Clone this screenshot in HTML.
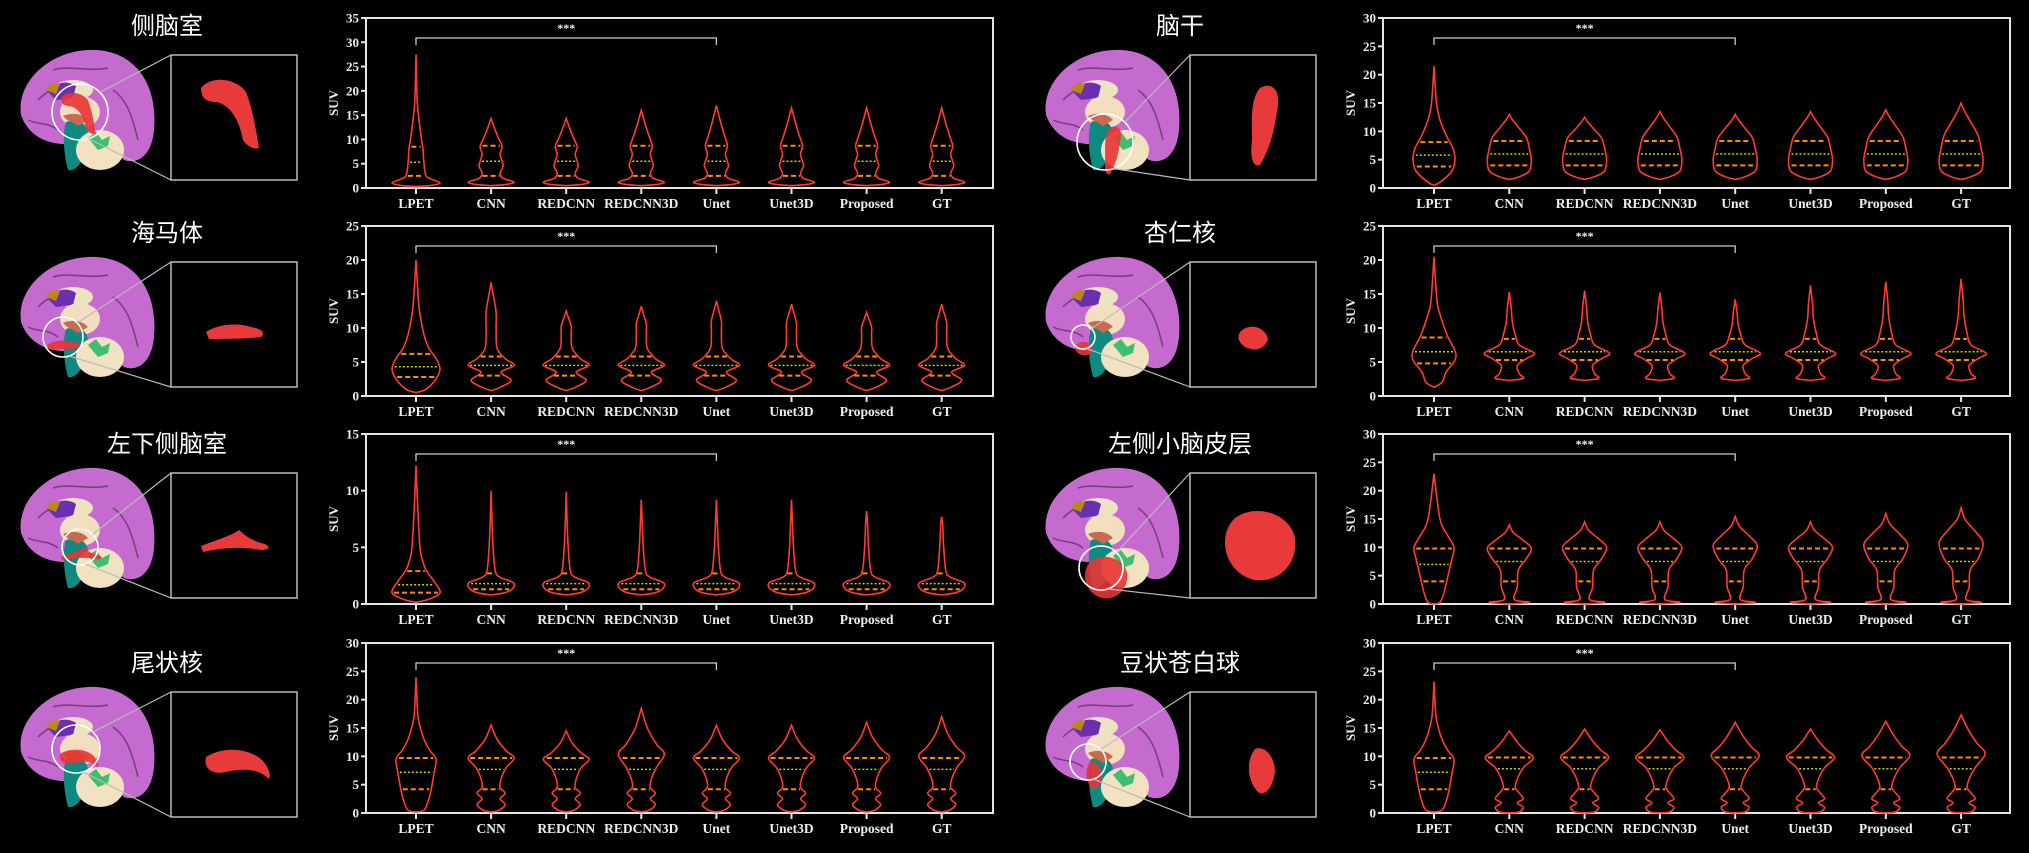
<!DOCTYPE html>
<html><head><meta charset="utf-8">
<style>
html,body{margin:0;padding:0;background:#000;}
body{width:2029px;height:853px;overflow:hidden;position:relative;}
svg{position:absolute;left:0;top:0;}
</style></head>
<body>
<svg id="s" width="2029" height="853" xmlns="http://www.w3.org/2000/svg"></svg>
<script>
const S=document.getElementById('s');let out='';
const cats=["LPET","CNN","REDCNN","REDCNN3D","Unet","Unet3D","Proposed","GT"];
function scaleProf(p,top){const t0=p[p.length-1][0];const b=p[0][0];return p.map(([v,w])=>[v<=b+0.01?v:(v>=t0-0.01?top:v+(v>8?(v-8)/(t0-8)*(top-t0):0)),w]);}
function hwAt(p,v){for(let i=0;i<p.length-1;i++){if(v>=p[i][0]&&v<=p[i+1][0]){const t=(v-p[i][0])/(p[i+1][0]-p[i][0]||1);return p[i][1]+t*(p[i+1][1]-p[i][1]);}}return 0;}
function smooth(pts){let d='M'+pts[0][0].toFixed(1)+','+pts[0][1].toFixed(1);for(let i=0;i<pts.length-1;i++){const p0=pts[Math.max(0,i-1)],p1=pts[i],p2=pts[i+1],p3=pts[Math.min(pts.length-1,i+2)];const c1=[p1[0]+(p2[0]-p0[0])/6,p1[1]+(p2[1]-p0[1])/6],c2=[p2[0]-(p3[0]-p1[0])/6,p2[1]-(p3[1]-p1[1])/6];d+=`C${c1[0].toFixed(1)},${c1[1].toFixed(1)} ${c2[0].toFixed(1)},${c2[1].toFixed(1)} ${p2[0].toFixed(1)},${p2[1].toFixed(1)}`;}return d;}
function chart(axL,axR,top,ymax,x0,dx,lp,lq,op,tops,oq){
  const H=170,y0=top+H,Y=v=>y0-v/ymax*H;
  out+=`<rect x="${axL}" y="${top}" width="${axR-axL}" height="${H}" fill="none" stroke="#e6e6e6" stroke-width="2"/>`;
  for(let v=0;v<=ymax;v+=5){const y=Y(v);out+=`<line x1="${axL-5}" y1="${y}" x2="${axL}" y2="${y}" stroke="#e6e6e6" stroke-width="2"/><text x="${axL-7}" y="${y+4.5}" text-anchor="end" font-family="Liberation Serif,serif" font-weight="bold" font-size="13" fill="#eee">${v}</text>`;}
  out+=`<text transform="translate(${axL-28},${top+H/2}) rotate(-90)" text-anchor="middle" font-family="Liberation Serif,serif" font-weight="bold" font-size="13" fill="#eee">SUV</text>`;
  const bx1=x0,bx2=x0+4*dx,by=top+20;
  out+=`<path d="M${bx1},${by+7}V${by}H${bx2}V${by+7}" fill="none" stroke="#ccc" stroke-width="1.3"/><text x="${(bx1+bx2)/2}" y="${top+14}" text-anchor="middle" font-family="Liberation Serif,serif" font-weight="bold" font-size="12" fill="#eee">***</text>`;
  for(let i=0;i<8;i++){const cx=x0+i*dx;
    out+=`<line x1="${cx}" y1="${y0}" x2="${cx}" y2="${y0+6}" stroke="#e6e6e6" stroke-width="2"/><text x="${cx}" y="${y0+20}" text-anchor="middle" font-family="Liberation Serif,serif" font-weight="bold" font-size="13.5" fill="#eee">${cats[i]}</text>`;
    const p=i==0?lp:scaleProf(op,tops[i-1]);const q=i==0?lq:oq;
    const R=p.map(([v,w])=>[cx+w,Y(v)]),L=p.slice().reverse().map(([v,w])=>[cx-w,Y(v)]);
    out+=`<path d="${smooth(R)} ${smooth(L).replace('M','L')}Z" fill="none" stroke="#ff3b30" stroke-width="1.6"/>`;
    q.forEach((v,k)=>{const w=Math.max(hwAt(p,v)-2,2),y=Y(v);out+=`<line x1="${cx-w}" y1="${y}" x2="${cx+w}" y2="${y}" stroke="${k==1?'#c8d400':'#ff8c00'}" stroke-width="${k==1?1.5:2}" stroke-dasharray="${k==1?'2,2':'5,3'}"/>`;});
  }
}
const cols=[{axL:366,axR:993,x0:416,dx:75.1},{axL:1383,axR:2010,x0:1434,dx:75.3}];
const tops=[18,226,434,643];
const P=[
 [0,0,35,[[0.3,0],[0.5,14],[1,24],[1.8,16],[2.5,10],[5,8],[8,7],[10,5.5],[14,3],[17,1.5],[20,0.8],[27.5,0]],[2.5,5.3,8.5],
  [[0.5,0],[0.7,14],[1.2,23],[2,12],[3,9],[4.5,12],[5.5,11],[7,9],[8.5,11],[10,8],[12,4],[14.3,0]],[14.3,14.3,16,17,16.5,16.5,16.5],[2.5,5.5,8.7]],
 [0,1,25,[[0.5,0],[1,10],[2.5,20],[4,24],[5.5,20],[7,13],[9,8],[12,4],[14,2.5],[20,0]],[2.8,4.3,6.2],
  [[0.8,0],[1.2,8],[2.3,20],[3.5,10],[4.5,23],[5.5,14],[7,6],[9,5],[10.5,5],[12,2],[13,0]],[16.7,12.5,13.2,14,13.5,12.3,13.5],[3,4.5,5.8]],
 [0,2,15,[[0.15,0],[0.4,12],[1,24],[2,18],[3,10],[4,6],[5,4],[8,2],[12.2,0]],[1,1.7,2.9],
  [[0.8,0],[1,14],[1.4,22],[1.9,22],[2.4,8],[3,4],[5,2],[7,1],[9.5,0]],[10,9.9,9.2,9.2,9.2,8.2,7.7],[1.3,1.8,2.7]],
 [0,3,30,[[0.2,0],[0.5,8],[2,12],[4,15],[7,18],[9.5,20],[11,14],[13,8],[16,3],[18,1.5],[24,0]],[4.2,7.2,9.7],
  [[0.2,0],[0.5,8],[1.5,14],[2.5,9],[3.5,14],[4.5,9],[6,10],[8,15],[9.7,23],[11,15],[13,6],[15.5,0]],[15.5,14.5,18.5,15.5,15.5,16,17],[4.2,7.7,9.7]],
 [1,0,30,[[0.5,0],[1,6],[3,18],[5,21],[7,19],[9,13],[12,6],[15,2.5],[21.5,0]],[3.8,5.8,8.1],
  [[1.5,0],[2,10],[3,20],[5,22],[7,20],[9,17],[11,9],[12.5,3],[13.5,0]],[13,12.5,13.5,13,13.5,13.8,15],[4,6,8.3]],
 [1,1,25,[[1.3,0],[2,8],[3.5,12],[5,20],[6,22],[7,20],[9,13],[12,6],[14,3],[20.5,0]],[4.8,6.5,8.6],
  [[2.3,0],[2.6,14],[3.3,10],[4.5,8],[5.5,17],[6.3,25],[7.5,10],[9,6],[11,3],[13,2],[15.5,0]],[15.3,15.5,15.2,14.2,16.3,16.8,17.2],[5.3,6.5,8.4]],
 [1,2,30,[[0,0],[0.3,6],[2,10],[5,14],[8,18],[10,20],[12,14],[15,6],[23,0]],[4,7,9.8],
  [[0,0],[0.3,20],[0.8,5],[3,8],[6,9],[8,17],[10,22],[11.5,14],[13,4],[14.5,0]],[14,14.5,14.5,15.5,14.5,16,17],[4,7.5,9.8]],
 [1,3,30,[[0.2,0],[0.5,8],[2,12],[4,15],[7,18],[9.5,20],[11,14],[13,8],[16,3],[18,1.5],[23.2,0]],[4.2,7.2,9.7],
  [[0,0],[0.2,10],[1,14],[1.8,8],[2.5,14],[3.5,10],[4.5,6],[6,8],[8,14],[9.7,24],[11,16],[12.5,8],[14.5,0]],[14.5,14.8,14.7,16,14.8,16.2,17.3],[4.2,7.8,9.8]]
];
P.forEach(a=>{const c=cols[a[0]];chart(c.axL,c.axR,tops[a[1]],a[2],c.x0,c.dx,a[3],a[4],a[5],a[6],a[7]);});
// brains
const titles=[["侧脑室","海马体","左下侧脑室","尾状核"],["脑干","杏仁核","左侧小脑皮层","豆状苍白球"]];
const tY=[25,232,443,662];
const circ=[[[62,62,28],[45,80,20],[62,79,18],[58,62,24]],[[62,92,28],[40,80,12],[58,100,22],[45,75,18]]];
const blobs=[["M10,18 C20,5 45,8 55,22 C62,40 65,60 68,78 C62,80 55,75 52,70 C48,50 40,35 25,32 C15,32 10,28 10,18Z",
 "M15,55 C25,48 45,45 60,50 C70,52 75,55 70,60 C55,62 35,62 18,62Z",
 "M10,58 C25,52 40,48 48,42 C52,45 55,50 70,55 C80,57 80,62 70,62 C50,58 30,60 12,64Z",
 "M15,50 C30,40 55,40 70,52 C78,60 80,68 78,72 C65,60 50,62 35,65 C22,68 12,62 15,50Z"],
 ["M50,18 C60,12 70,18 68,35 C65,55 62,75 50,95 C42,98 40,85 42,70 C42,50 40,30 50,18Z",
 "M30,55 C40,45 55,50 58,62 C55,72 45,75 35,70 C28,65 27,60 30,55Z",
 "M25,30 C45,15 80,25 85,50 C88,75 70,95 45,92 C25,88 15,70 15,55 C15,45 18,37 25,30Z",
 "M45,42 C55,38 65,50 65,65 C63,80 55,90 48,85 C38,75 35,55 45,42Z"]];
for(let c=0;c<2;c++)for(let r=0;r<4;r++){
  const off=c?1013:0,tx=167+off,ty=tY[r];
  out+=`<text x="${tx}" y="${ty+9}" text-anchor="middle" font-family="Liberation Sans,'Noto Sans CJK SC',sans-serif" font-size="24" fill="#fff">${titles[c][r]}</text>`;
  const bx=18+off+(c?12:0),by=ty+25,boxX=171+off+(c?6:0),boxY=ty+30;
  out+=`<g transform="translate(${bx},${by})">
  <path d="M3,65 C-2,30 35,-2 78,0 C118,2 140,35 136,80 C134,105 120,115 106,110 L88,95 L70,92 C50,96 15,98 3,65Z" fill="#c56bd0"/>
  <path d="M20,50 C40,30 60,35 70,40 M35,20 C50,15 70,22 90,18 M95,40 C110,50 115,70 120,90 M10,70 C20,75 30,72 40,80" stroke="#7a3a80" stroke-width="1.5" fill="none"/>
  <ellipse cx="55" cy="40" rx="20" ry="10" fill="#ece3c0"/>
  <path d="M30,42 C35,32 50,30 58,36 L55,48 L38,50Z" fill="#6a2fb0"/>
  <path d="M28,40 C30,34 38,32 42,34 L38,44Z" fill="#b88a15"/>
  <ellipse cx="62" cy="62" rx="20" ry="16" fill="#f3dfbf"/>
  <path d="M48,72 C60,68 72,72 70,90 C68,110 58,122 50,120 C46,105 44,85 48,72Z" fill="#0f8a80"/>
  <ellipse cx="82" cy="100" rx="24" ry="20" fill="#f3e2c2"/>
  <path d="M70,88 L78,82 L84,90 L92,86 L90,96 L80,100Z" fill="#3cbf70"/>
  <path d="M45,66 C55,62 65,64 70,70 L60,76 C55,72 50,72 45,66Z" fill="#c86a50"/>
  </g>`;
  const [cx,cy,cr]=circ[c][r];const gx=bx+cx,gy=by+cy;
  out+=`<path d="${blobs[c][r].replace(/(-?\d+\.?\d*),(-?\d+\.?\d*)/g,(m,a,b)=>(+a*0.6+bx+cx-25).toFixed(1)+','+(+b*0.6+by+cy-25).toFixed(1))}" fill="#e83535" opacity="0.9"/>`;
  out+=`<circle cx="${gx}" cy="${gy}" r="${cr}" fill="none" stroke="#fff" stroke-width="1.6"/>`;
  out+=`<line x1="${gx+cr*0.7}" y1="${gy-cr*0.7}" x2="${boxX}" y2="${boxY}" stroke="#bbb" stroke-width="1.2"/><line x1="${gx+cr*0.3}" y1="${gy+cr*0.95}" x2="${boxX}" y2="${boxY+125}" stroke="#bbb" stroke-width="1.2"/>`;
  out+=`<rect x="${boxX}" y="${boxY}" width="126" height="125" fill="#000" stroke="#bbb" stroke-width="1.5"/>`;
  out+=`<path d="${blobs[c][r].replace(/(-?\d+\.?\d*),(-?\d+\.?\d*)/g,(m,a,b)=>(+a*1.0+boxX+20).toFixed(1)+','+(+b*1.0+boxY+15).toFixed(1))}" fill="#e83a3a"/>`;
}
S.innerHTML=out;
</script>
</body></html>
